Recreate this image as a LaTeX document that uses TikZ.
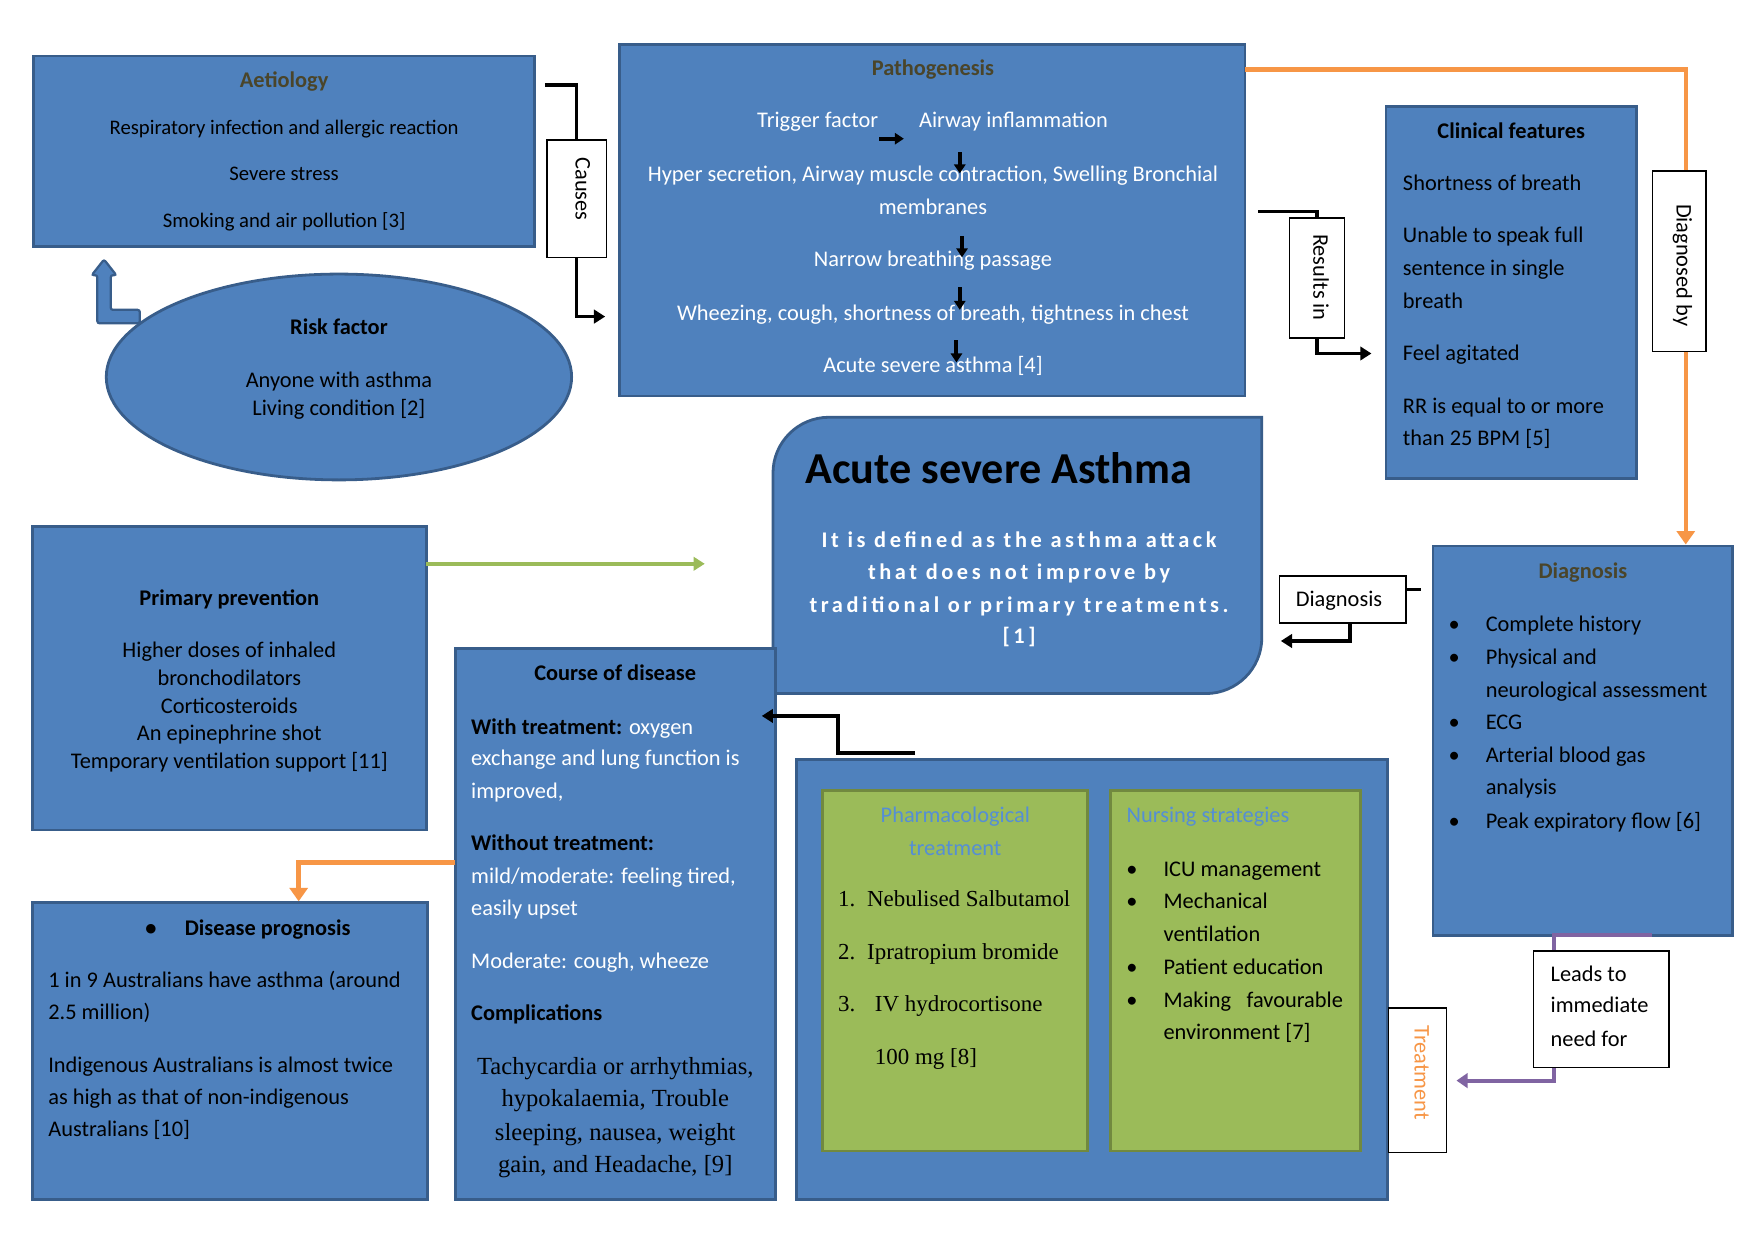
\documentclass[tikz,border=0pt]{standalone}
\usepackage{fontspec}
\setmainfont{Carlito}
\newfontfamily\tnr{Liberation Serif}
\usetikzlibrary{arrows.meta,shapes.geometric}
\definecolor{bblue}{HTML}{4F81BD}
\definecolor{bborder}{HTML}{385D8A}
\definecolor{ggreen}{HTML}{9BBB59}
\definecolor{gborder}{HTML}{71893F}
\definecolor{oorange}{HTML}{F79646}
\definecolor{ppurple}{HTML}{8064A2}
\definecolor{ttlc}{HTML}{4A452A}
\definecolor{ptitle}{HTML}{558ED5}
\newcommand{\fsz}[1]{\fontsize{#1}{#1}\selectfont}
\tikzset{
  bbox/.style={draw=bborder, fill=bblue, line width=2.5pt, inner sep=0pt},
  gbox/.style={draw=gborder, fill=ggreen, line width=2.5pt, inner sep=0pt},
  lbox/.style={draw=black, fill=white, line width=1.2pt, inner sep=0pt},
  tx/.style={inner sep=0pt, anchor=mid, yshift=-5pt, font=\fsz{20}},
  txl/.style={tx, anchor=mid west},
  ttl/.style={tx, font=\fsz{20}\bfseries, text=ttlc},
  btx/.style={tx, font=\fsz{20}\bfseries},
  btxl/.style={btx, anchor=mid west},
  wtx/.style={tx, text=white},
  wtxl/.style={txl, text=white},
  serif/.style={tx, font=\fsz{22}\tnr},
  serifl/.style={txl, font=\fsz{20.5}\tnr},
  lbltxt/.style={inner sep=0pt, font=\fsz{20}},
  blk/.style={draw=black, line width=3.2pt, -{Triangle[length=10pt,width=12pt]}},
  org/.style={draw=oorange, line width=4pt, -{Triangle[length=12pt,width=16pt]}},
  pur/.style={draw=ppurple, line width=3.5pt, -{Triangle[length=10pt,width=13pt]}},
  grn/.style={draw=ggreen, line width=3.5pt, -{Triangle[length=10pt,width=12pt]}},
  smallarr/.style={draw=black, line width=3.5pt, -{Triangle[length=8pt,width=10pt]}},
}
\begin{document}
\begin{tikzpicture}[x=1pt,y=-1pt]
\useasboundingbox[fill=white] (0,0) rectangle (1568,1109);

% ---------- Aetiology ----------
\node[bbox, minimum width=448pt, minimum height=170pt] (aet) at (254,135) {};
\node[ttl] (aet-t) at (254,71) {Aetiology};
\node[tx, font=\fsz{18.5}] (aet-1) at (254,113) {Respiratory infection and allergic reaction};
\node[tx, font=\fsz{18.5}] (aet-2) at (254,154) {Severe stress};
\node[tx, font=\fsz{18.5}] (aet-3) at (254,196) {Smoking and air pollution [3]};

% ---------- Risk factor ----------
\filldraw[draw=bborder, fill=bblue, line width=2pt, rounded corners=2pt]
  (125,277) -- (99,277) -- (99,246) -- (104,246) -- (93,232) -- (82,246) -- (87,246)
  -- (87,289) -- (125,289) -- cycle;
\node[ellipse, bbox, minimum width=416pt, minimum height=184pt] (risk) at (303,337) {};
\node[btx] (risk-t) at (303,292) {Risk factor};
\node[tx] (risk-1) at (303,339) {Anyone with asthma};
\node[tx] (risk-2) at (303,364) {Living condition [2]};

% ---------- Pathogenesis ----------
\node[bbox, minimum width=559pt, minimum height=314pt] (path) at (833.5,197) {};
\node[ttl] (path-t) at (834,60) {Pathogenesis};
\node[wtx] (path-1a) at (731,107) {Trigger factor};
\node[wtx] (path-1b) at (906,107) {Airway inflammation};
\node[wtx] (path-2) at (834,155) {Hyper secretion, Airway muscle contraction, Swelling Bronchial};
\node[wtx] (path-3) at (834,184) {membranes};
\node[wtx] (path-4) at (834,231) {Narrow breathing passage};
\node[wtx] (path-5) at (834,279) {Wheezing, cough, shortness of breath, tightness in chest};
\node[wtx] (path-6) at (834,326) {Acute severe asthma [4]};
\coordinate (pa1s) at (786,124); \coordinate (pa1e) at (808,124);
\coordinate (pa2s) at (858,136); \coordinate (pa2e) at (858,155);
\coordinate (pa3s) at (860,211); \coordinate (pa3e) at (860,230);
\coordinate (pa4s) at (858,257); \coordinate (pa4e) at (858,277);
\coordinate (pa5s) at (855,304); \coordinate (pa5e) at (855,324);
\draw[smallarr] (pa1s) -- (pa1e);
\draw[smallarr] (pa2s) -- (pa2e);
\draw[smallarr] (pa3s) -- (pa3e);
\draw[smallarr] (pa4s) -- (pa4e);
\draw[smallarr] (pa5s) -- (pa5e);

% ---------- Clinical features ----------
\node[bbox, minimum width=224pt, minimum height=333pt] (clin) at (1351,261.5) {};
\node[btx] (clin-t) at (1351,116) {Clinical features};
\node[txl] (clin-1) at (1254,163) {Shortness of breath};
\node[txl] (clin-2) at (1254,209) {Unable to speak full};
\node[txl] (clin-3) at (1254,239) {sentence in single};
\node[txl] (clin-4) at (1254,268) {breath};
\node[txl] (clin-5) at (1254,315) {Feel agitated};
\node[txl] (clin-6) at (1254,362) {RR is equal to or more};
\node[txl] (clin-7) at (1254,391) {than 25 BPM [5]};

% ---------- Acute severe asthma ----------
\node[inner sep=0pt, minimum width=437pt, minimum height=247pt] (acute) at (909.5,496.5) {};
\filldraw[draw=bborder, fill=bblue, line width=2.5pt]
  (741,373) -- (1128,373) -- (1128,570)
  .. controls (1128,597.6) and (1105.6,620) .. (1078,620)
  -- (691,620) -- (691,423)
  .. controls (691,395.4) and (713.4,373) .. (741,373) -- cycle;
\node[tx, font=\fsz{39.5}\bfseries] (acute-t) at (893,425) {Acute severe Asthma};
\begin{scope}[every node/.style={tx, text=white, font=\fsz{20}\bfseries\addfontfeature{LetterSpace=16}}]
\node (acute-1) at (911,482) {It is defined as the asthma attack};
\node (acute-2) at (911,511) {that does not improve by};
\node (acute-3) at (911,540) {traditional or primary treatments.};
\node (acute-4) at (911,568) {[1]};
\end{scope}

% ---------- Primary prevention ----------
\node[bbox, minimum width=352pt, minimum height=271pt] (prim) at (205,606.5) {};
\node[btx] (prim-t) at (205,534) {Primary prevention};
\node[tx] (prim-1) at (205,580) {Higher doses of inhaled};
\node[tx] (prim-2) at (205,605) {bronchodilators};
\node[tx] (prim-3) at (205,630) {Corticosteroids};
\node[tx] (prim-4) at (205,655) {An epinephrine shot};
\node[tx] (prim-5) at (205,680) {Temporary ventilation support [11]};

% ---------- Course of disease ----------
\node[bbox, minimum width=286pt, minimum height=492pt] (course) at (550,826) {};
\node[btx] (course-t) at (550,601) {Course of disease};
\node[txl] (course-1) at (421,649) {\textbf{With treatment:} \textcolor{white}{oxygen}};
\node[wtxl] (course-2) at (421,677) {exchange and lung function is};
\node[wtxl] (course-3) at (421,706) {improved,};
\node[btxl] (course-4) at (421,753) {Without treatment:};
\node[wtxl] (course-5) at (421,782) {mild/moderate: feeling tired,};
\node[wtxl] (course-6) at (421,811) {easily upset};
\node[wtxl] (course-7) at (421,858) {Moderate: cough, wheeze};
\node[btxl] (course-8) at (421,905) {Complications};
\node[serif] (course-9) at (550,953) {Tachycardia or arrhythmias,};
\node[serif] (course-10) at (550,982) {hypokalaemia, Trouble};
\node[serif] (course-11) at (550,1012) {sleeping, nausea, weight};
\node[serif] (course-12) at (550,1041) {gain, and Headache, [9]};

% ---------- Disease prognosis ----------
\node[bbox, minimum width=353pt, minimum height=265pt] (prog) at (205.5,939.5) {};
\node[btx] (prog-b) at (135,829) {•};
\node[btxl] (prog-t) at (165,829) {Disease prognosis};
\node[txl] (prog-1) at (43,875) {1 in 9 Australians have asthma (around};
\node[txl] (prog-2) at (43,904) {2.5 million)};
\node[txl] (prog-3) at (43,951) {Indigenous Australians is almost twice};
\node[txl] (prog-4) at (43,980) {as high as that of non-indigenous};
\node[txl] (prog-5) at (43,1009) {Australians [10]};

% ---------- Treatment ----------
\node[bbox, minimum width=528pt, minimum height=393pt] (treat) at (976,875.5) {};
\node[gbox, minimum width=237pt, minimum height=322pt] (pharm) at (853.5,868) {};
\node[gbox, minimum width=223pt, minimum height=322pt] (nurse) at (1104.5,868) {};
\node[tx, text=ptitle] (pharm-t1) at (854,728) {Pharmacological};
\node[tx, text=ptitle] (pharm-t2) at (854,757) {treatment};
\node[serifl] (pharm-n1) at (749,803) {1.};
\node[serifl] (pharm-1) at (775,803) {Nebulised Salbutamol};
\node[serifl] (pharm-n2) at (749,850) {2.};
\node[serifl] (pharm-2) at (775,850) {Ipratropium bromide};
\node[serifl] (pharm-n3) at (749,897) {3.};
\node[serifl] (pharm-3) at (782,897) {IV hydrocortisone};
\node[serifl] (pharm-4) at (782,944) {100 mg [8]};
\node[txl, text=ptitle] (nurse-t) at (1007,728) {Nursing strategies};
\node[tx] (nurse-b1) at (1012,776) {•};
\node[txl] (nurse-1) at (1040,776) {ICU management};
\node[tx] (nurse-b2) at (1012,805) {•};
\node[txl] (nurse-2) at (1040,805) {Mechanical};
\node[txl] (nurse-3) at (1040,834) {ventilation};
\node[tx] (nurse-b3) at (1012,864) {•};
\node[txl] (nurse-4) at (1040,864) {Patient education};
\node[tx] (nurse-b4) at (1012,893) {•};
\node[txl] (nurse-5) at (1040,893) {Making\hskip 14pt favourable};
\node[txl] (nurse-6) at (1040,922) {environment [7]};

% ---------- Diagnosis ----------
\node[bbox, minimum width=268pt, minimum height=348pt] (diag) at (1415,662) {};
\node[ttl] (diag-t) at (1415,510) {Diagnosis};
\node[tx] (diag-b1) at (1300,557) {•};
\node[txl] (diag-1) at (1328,557) {Complete history};
\node[tx] (diag-b2) at (1300,587) {•};
\node[txl] (diag-2) at (1328,587) {Physical and};
\node[txl] (diag-3) at (1328,616) {neurological assessment};
\node[tx] (diag-b3) at (1300,645) {•};
\node[txl] (diag-4) at (1328,645) {ECG};
\node[tx] (diag-b4) at (1300,674) {•};
\node[txl] (diag-5) at (1328,674) {Arterial blood gas};
\node[txl] (diag-6) at (1328,703) {analysis};
\node[tx] (diag-b5) at (1300,733) {•};
\node[txl] (diag-7) at (1328,733) {Peak expiratory flow [6]};

% ---------- Connectors ----------
\coordinate (cs) at (487,76); \coordinate (ce) at (541,283);
\coordinate (rs) at (1125,189); \coordinate (re) at (1226,316);
\coordinate (ds) at (1113,62); \coordinate (dc) at (1507,62);
\coordinate (dgs) at (1270,527); \coordinate (dgc) at (1207,527); \coordinate (dge) at (1145,573);
\coordinate (cas) at (818,673); \coordinate (cac) at (749,673); \coordinate (cae) at (681,640);
\coordinate (ops) at (407,771); \coordinate (opc) at (267,771);
\coordinate (pus) at (1477,836); \coordinate (puc) at (1389,836); \coordinate (pue) at (1302,966);
\coordinate (gs) at (381,504); \coordinate (ge) at (630,504);

\node[lbox, minimum width=53pt, minimum height=105pt] (causes) at (515.5,177.5) {};
\node[lbox, minimum width=49pt, minimum height=107pt] (results) at (1177.5,248.5) {};
\node[lbox, minimum width=48pt, minimum height=161pt] (diagby) at (1501,233.5) {};
\node[lbox, minimum width=113pt, minimum height=42pt] (dlabel) at (1200.5,536) {};
\node[lbox, minimum width=121pt, minimum height=104pt] (leads) at (1431.5,902) {};
\node[lbox, minimum width=52pt, minimum height=129pt] (treatl) at (1267,965.5) {};

\draw[blk] (cs) -| (causes) |- (ce);
\draw[blk] (rs) -| (results) |- (re);
\draw[org] (ds) -- (dc) -- (dc |- diag.north);
\draw[blk] (dgs) -- (dgc) |- (dge);
\draw[blk] (cas) -- (cac) |- (cae);
\draw[org] (ops) -- (opc) -- (opc |- prog.north);
\draw[pur] (pus) -- (puc) |- (pue);
\draw[grn] (gs) -- (ge);

% label boxes redrawn on top of connectors
\node[lbox, minimum width=53pt, minimum height=105pt] at (causes) {};
\node[lbox, minimum width=49pt, minimum height=107pt] at (results) {};
\node[lbox, minimum width=48pt, minimum height=161pt] at (diagby) {};
\node[lbox, minimum width=113pt, minimum height=42pt] at (dlabel) {};
\node[lbox, minimum width=121pt, minimum height=104pt] at (leads) {};
\node[lbox, minimum width=52pt, minimum height=129pt] at (treatl) {};

\node[lbltxt, rotate=-90] (causes-t) at (521,169) {Causes};
\node[lbltxt, rotate=-90] (results-t) at (1181,248) {Results in};
\node[lbltxt, rotate=-90] (diagby-t) at (1504,237) {Diagnosed by};
\node[lbltxt, anchor=mid, yshift=-5pt] (dlabel-t) at (1197,535) {Diagnosis};
\node[lbltxt, anchor=mid west, yshift=-5pt] (leads-1) at (1386,870) {Leads to};
\node[lbltxt, anchor=mid west, yshift=-5pt] (leads-2) at (1386,898) {immediate};
\node[lbltxt, anchor=mid west, yshift=-5pt] (leads-3) at (1386,928) {need for};
\node[lbltxt, rotate=-90, text=oorange] (treatl-t) at (1271,959) {Treatment};
\end{tikzpicture}
\end{document}
